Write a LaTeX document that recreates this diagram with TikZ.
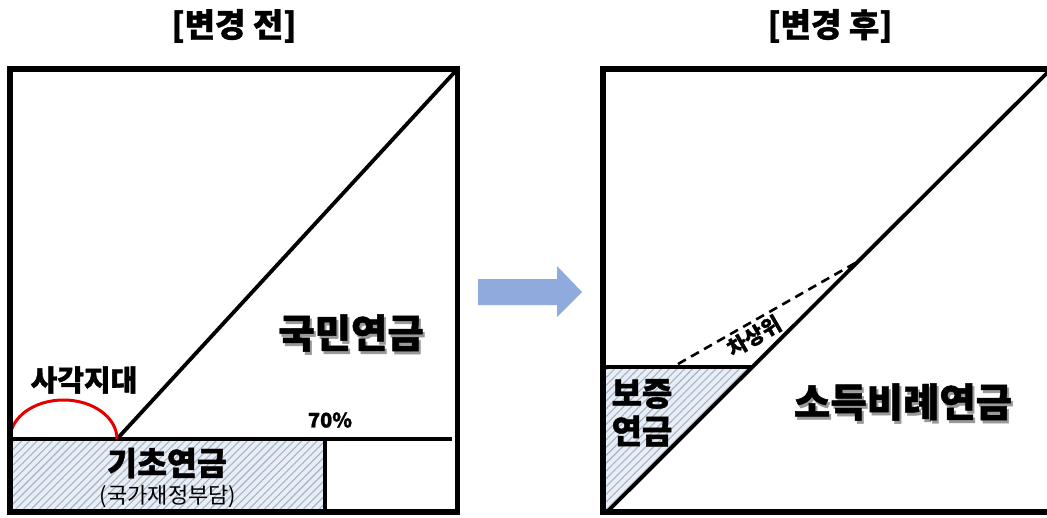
\documentclass[tikz,border=0pt]{standalone}
\usepackage{fontspec}
\setmainfont{Noto Sans CJK KR}[BoldFeatures={FakeBold=1.2}]
\usetikzlibrary{patterns.meta}
\definecolor{hatchbg}{HTML}{E9EEF5}
\definecolor{hatchln}{HTML}{A3B3C9}
\definecolor{arrowblue}{HTML}{8FAADC}
\tikzset{
  frame/.style={line width=5.5pt},
  inner/.style={line width=3.8pt},
  hatch/.style={fill=hatchbg, postaction={pattern={Lines[angle=45,distance=5.5pt,line width=1.1pt]}, pattern color=hatchln}},
  lbl/.style={font=\bfseries, inner sep=0pt, anchor=center},
  shadowed/.style={lbl, text=black!40},
}
\begin{document}
\begin{tikzpicture}[x=1pt,y=-1pt]
\useasboundingbox (0,0) rectangle (1047,517);
\clip (0,0) rectangle (1047,517);
% ---------- left panel ----------
\coordinate (Ltl) at (10,69);
\coordinate (Lbr) at (457.5,512);
\coordinate (Lh0) at (10,439);
\coordinate (Lh1) at (452,439);
\coordinate (Ld0) at (117,439);
\coordinate (Ld1) at (457.5,69);
\coordinate (Lr0) at (325,439);
\coordinate (Lr1) at (325,512);
\path[hatch] (10,439) rectangle (325,512);
\draw[inner] (Lh0) -- (Lh1);
\draw[inner] (Lr0) -- (Lr1);
\draw[inner] (Ld0) -- (Ld1);
\draw[red!90!black, line width=3pt] (Lh0) arc[start angle=180, end angle=360, x radius=53.5, y radius=39];
\draw[frame] (Ltl) rectangle (Lbr);
% ---------- right panel ----------
\coordinate (Rtl) at (603,69);
\coordinate (Rbr) at (1056,512);
\coordinate (Rd0) at (607,512);
\coordinate (Rd1) at (1051,69);
\coordinate (Rh0) at (603,367);
\coordinate (Rh1) at (752.3,367);
\coordinate (Rk0) at (678,364);
\coordinate (Rk1) at (857,262);
\path[hatch] (603,367) -- (752.3,367) -- (607,512) -- (603,512) -- cycle;
\draw[inner] (Rh0) -- (Rh1);
\draw[inner] (Rd0) -- (Rd1);
\draw[line width=2.6pt, dash pattern=on 9pt off 6pt] (Rk0) -- (Rk1);
\draw[frame] (Rtl) rectangle (Rbr);
% ---------- arrow ----------
\fill[arrowblue] (478,279) -- (557,279) -- (557,266) -- (582,292) -- (557,317) -- (557,305) -- (478,305) -- cycle;
% ---------- texts ----------
\node[lbl, font=\bfseries\fontsize{33}{36}\selectfont] (t1) at (234,26) {[변경 전]};
\node[lbl, font=\bfseries\fontsize{33}{36}\selectfont] (t2) at (830,26) {[변경 후]};
\node[shadowed, font=\bfseries\fontsize{39.5}{44}\selectfont] (n1s) at (353,336) {국민연금};
\node[lbl, font=\bfseries\fontsize{39.5}{44}\selectfont] (n1) at (351,333) {국민연금};
\node[lbl, font=\bfseries\fontsize{29}{32}\selectfont] (sg) at (84,380) {사각지대};
\node[lbl, font=\bfseries\fontsize{20}{24}\selectfont] (p70) at (330,420) {70\%};
\node[lbl, font=\bfseries\fontsize{32.5}{36}\selectfont] (gc) at (167,463) {기초연금};
\node[lbl, font=\fontsize{22}{26}\selectfont] (gcs) at (168,497) {(국가재정부담)};
\node[lbl, font=\bfseries\fontsize{33}{36}\selectfont] (bj1) at (642,394) {보증};
\node[lbl, font=\bfseries\fontsize{33}{36}\selectfont] (bj2) at (642,431) {연금};
\node[shadowed, font=\bfseries\fontsize{39.5}{44}\selectfont] (sds) at (905,405) {소득비례연금};
\node[lbl, font=\bfseries\fontsize{39.5}{44}\selectfont] (sd) at (903,402) {소득비례연금};
\node[lbl, font=\bfseries\fontsize{21}{24}\selectfont, rotate=30] (cs) at (754,336) {차상위};
\end{tikzpicture}
\end{document}
